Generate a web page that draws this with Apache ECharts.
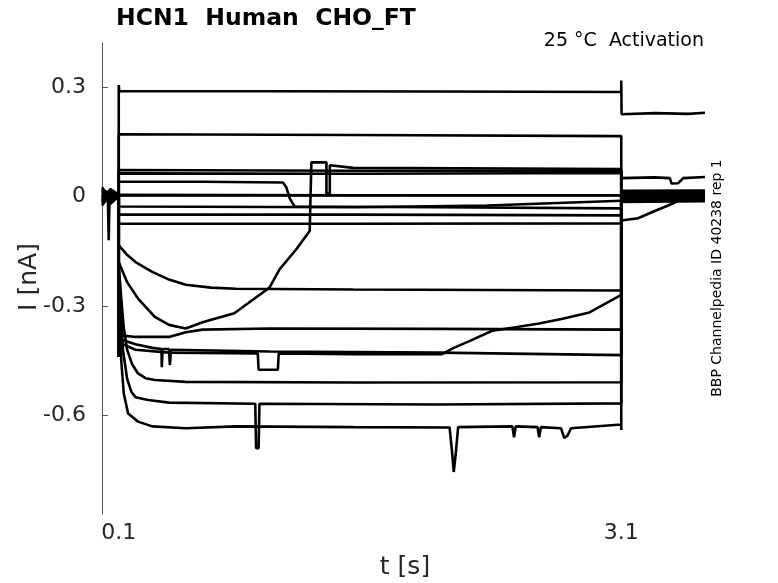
<!DOCTYPE html>
<html>
<head>
<meta charset="utf-8">
<script src="https://cdn.jsdelivr.net/npm/echarts@6/dist/echarts.min.js"></script>
<style>
html,body{margin:0;padding:0;background:#fff;}
#chart{width:778px;height:583px;}
</style>
</head>
<body>
<div id="chart"></div>
<script>
// Tick positions
const xTicks = [0.1, 3.1];
const yTicks = [0.3, 0, -0.3, -0.6];

// Current traces [t (s), I (nA)]
const tr01 = [[0,0.012],[0.05,0.004],[0.1,0.003],[0.1,0.305],[0.103,0.288],[1.0,0.288],[2.0,0.287],[3.1,0.286],[3.1,0.317],[3.102,0.225],[3.3,0.228],[3.5,0.226],[3.6,0.229]];
const tr02 = [[0,-0.01],[0.05,0.01],[0.1,0.0],[0.1,0.17],[1.5,0.168],[3.1,0.165],[3.1,0.05],[3.3,0.052],[3.39,0.05],[3.4,0.035],[3.44,0.036],[3.47,0.05],[3.6,0.053]];
const tr03 = [[0,0.02],[0.05,-0.005],[0.1,0.006],[0.1,0.072],[1.5,0.07],[3.1,0.07],[3.1,0.008],[3.6,0.01]];
const tr04 = [[0,-0.02],[0.05,0.015],[0.1,-0.004],[0.1,0.063],[1.5,0.062],[3.1,0.064],[3.1,-0.005],[3.6,-0.004]];
const tr05 = [[0,0.005],[0.05,-0.012],[0.1,0.002],[0.1,0.04],[0.6,0.04],[1.08,0.038],[1.1,0.025],[1.12,-0.005],[1.15,-0.028],[2.0,-0.03],[3.1,-0.033],[3.1,0.012],[3.6,0.012]];
const tr06 = [[0,0.01],[0.035,0.0],[0.04,-0.12],[0.045,-0.005],[0.1,-0.002],[0.1,0.004],[1.5,0.003],[3.1,0.003],[3.1,0.0],[3.6,0.002]];
const tr07 = [[0,-0.015],[0.05,0.02],[0.1,0.004],[0.1,-0.028],[1.5,-0.03],[2.3,-0.025],[3.1,-0.012],[3.1,-0.012],[3.6,-0.01]];
const tr08 = [[0,0.0],[0.05,-0.02],[0.1,0.0],[0.1,-0.05],[1.5,-0.05],[3.1,-0.052],[3.1,-0.008],[3.6,-0.006]];
const tr09 = [[0,0.018],[0.05,0.008],[0.1,-0.006],[0.1,-0.075],[1.5,-0.075],[3.1,-0.074],[3.1,0.015],[3.6,0.016]];
const tr10 = [[0,-0.008],[0.05,0.0],[0.1,0.002],[0.1,-0.3],[0.1,-0.134],[0.15,-0.16],[0.2,-0.18],[0.3,-0.207],[0.4,-0.228],[0.5,-0.242],[0.65,-0.25],[0.8,-0.253],[1.5,-0.255],[3.1,-0.258],[3.1,-0.015],[3.6,-0.013]];
const tr11 = [[0,0.025],[0.05,-0.008],[0.1,0.0],[0.1,-0.35],[0.1,-0.18],[0.15,-0.235],[0.215,-0.28],[0.315,-0.33],[0.4,-0.352],[0.5,-0.362],[0.6,-0.345],[0.79,-0.32],[0.88,-0.29],[1.0,-0.25],[1.06,-0.2],[1.16,-0.145],[1.24,-0.095],[1.25,-0.09],[1.25,0.093],[1.34,0.093],[1.34,0.008],[1.36,0.008],[1.36,0.085],[1.5,0.078],[3.1,0.075],[3.1,0.005],[3.6,0.006]];
const tr12 = [[0,-0.025],[0.05,0.005],[0.1,-0.003],[0.1,-0.44],[0.1,-0.4],[0.2,-0.42],[0.4,-0.428],[0.93,-0.43],[0.935,-0.475],[1.05,-0.475],[1.055,-0.43],[1.5,-0.432],[2.03,-0.432],[2.1,-0.415],[2.2,-0.395],[2.33,-0.368],[2.45,-0.36],[2.61,-0.348],[2.75,-0.335],[2.91,-0.318],[3.0,-0.295],[3.1,-0.27],[3.1,-0.066],[3.2,-0.06],[3.3,-0.04],[3.38,-0.025],[3.45,-0.01],[3.6,-0.005]];
const trC = [[0,0.015],[0.05,-0.015],[0.1,0.005],[0.1,-0.44],[0.1,-0.38],[0.2,-0.385],[0.4,-0.385],[0.5,-0.372],[0.6,-0.365],[1.0,-0.362],[2.0,-0.363],[3.1,-0.365],[3.1,-0.012],[3.6,-0.012]];
const trD = [[0,-0.005],[0.05,0.012],[0.1,-0.005],[0.1,-0.44],[0.1,-0.39],[0.2,-0.405],[0.3,-0.415],[0.355,-0.418],[0.357,-0.468],[0.362,-0.418],[0.4,-0.418],[0.405,-0.462],[0.412,-0.42],[1.0,-0.425],[2.0,-0.428],[3.1,-0.435],[3.1,0.009],[3.6,0.008]];
const trE = [[0,0.008],[0.05,-0.006],[0.1,0.006],[0.1,-0.44],[0.1,-0.19],[0.115,-0.28],[0.13,-0.36],[0.15,-0.42],[0.18,-0.46],[0.215,-0.485],[0.26,-0.498],[0.315,-0.503],[0.5,-0.508],[1.5,-0.51],[3.1,-0.509],[3.1,-0.002],[3.6,-0.001]];
const trF = [[0,-0.012],[0.05,0.018],[0.1,-0.001],[0.1,-0.44],[0.1,-0.2],[0.11,-0.3],[0.125,-0.42],[0.15,-0.5],[0.175,-0.535],[0.2,-0.55],[0.275,-0.558],[0.4,-0.565],[0.915,-0.568],[0.92,-0.69],[0.935,-0.69],[0.94,-0.568],[2.0,-0.57],[3.1,-0.567],[3.1,0.004],[3.6,0.003]];
const trG = [[0,0.004],[0.05,-0.018],[0.1,0.001],[0.1,-0.44],[0.1,-0.22],[0.105,-0.33],[0.115,-0.45],[0.13,-0.54],[0.156,-0.595],[0.215,-0.617],[0.3,-0.63],[0.5,-0.635],[0.8,-0.63],[1.5,-0.632],[2.075,-0.633],[2.09,-0.7],[2.1,-0.755],[2.113,-0.7],[2.126,-0.632],[2.45,-0.63],[2.46,-0.66],[2.47,-0.63],[2.6,-0.632],[2.61,-0.66],[2.62,-0.632],[2.74,-0.635],[2.76,-0.662],[2.78,-0.655],[2.8,-0.635],[3.1,-0.625],[3.1,-0.64],[3.1,-0.003],[3.6,-0.003]];

const traces = [tr01,tr02,tr03,tr04,tr05,tr06,tr07,tr08,tr09,tr10,tr11,tr12,trC,trD,trE,trF,trG];

const FONT = '"DejaVu Sans", "Liberation Sans", sans-serif';
const TXT = '#262626';

const chart = echarts.init(document.getElementById('chart'), null, {renderer:'canvas'});
chart.setOption({
  animation: false,
  backgroundColor: '#ffffff',
  grid: {left: 102, right: 73, top: 43, bottom: 69, containLabel: false},
  xAxis: {
    type: 'value', min: 0, max: 3.6,
    axisLine: {show: true, lineStyle: {color: '#555', width: 1}},
    axisTick: {show: true, inside: true, length: 6, customValues: xTicks, lineStyle: {color: '#555'}},
    axisLabel: {show: true, customValues: xTicks, margin: 8, color: TXT, fontFamily: FONT, fontSize: 22, formatter: v => String(v)},
    splitLine: {show: false}
  },
  yAxis: {
    type: 'value', min: -0.87, max: 0.42,
    axisLine: {show: true, lineStyle: {color: '#555', width: 1}},
    axisTick: {show: true, inside: true, length: 6, customValues: yTicks, lineStyle: {color: '#555'}},
    axisLabel: {show: true, customValues: yTicks, margin: 16, color: TXT, fontFamily: FONT, fontSize: 22, formatter: v => String(v)},
    splitLine: {show: false}
  },
  series: traces.map((d, i) => ({
    type: 'line', name: 'trace' + (i + 1), data: d,
    showSymbol: false, symbol: 'none', silent: true,
    lineStyle: {color: '#000', width: 2.6}
  })),
  graphic: [
    {type: 'text', silent: true, style: {x: 116, y: 19, text: 'HCN1  Human  CHO_FT', font: 'bold 23.5px ' + FONT, fill: '#000', textAlign: 'left', textVerticalAlign: 'middle'}},
    {type: 'text', silent: true, style: {x: 704, y: 41, text: '25 °C  Activation', font: '19px ' + FONT, fill: '#000', textAlign: 'right', textVerticalAlign: 'middle'}},
    {type: 'text', silent: true, x: 717, y: 278, rotation: Math.PI / 2, style: {x: 0, y: 0, text: 'BBP Channelpedia ID 40238 rep 1', font: '14px ' + FONT, fill: '#000', textAlign: 'center', textVerticalAlign: 'middle'}},
    {type: 'text', silent: true, x: 29, y: 277, rotation: Math.PI / 2, style: {x: 0, y: 0, text: 'I [nA]', font: '25px ' + FONT, fill: TXT, textAlign: 'center', textVerticalAlign: 'middle'}},
    {type: 'text', silent: true, style: {x: 405, y: 567, text: 't [s]', font: '25px ' + FONT, fill: TXT, textAlign: 'center', textVerticalAlign: 'middle'}}
  ]
});
</script>
</body>
</html>
